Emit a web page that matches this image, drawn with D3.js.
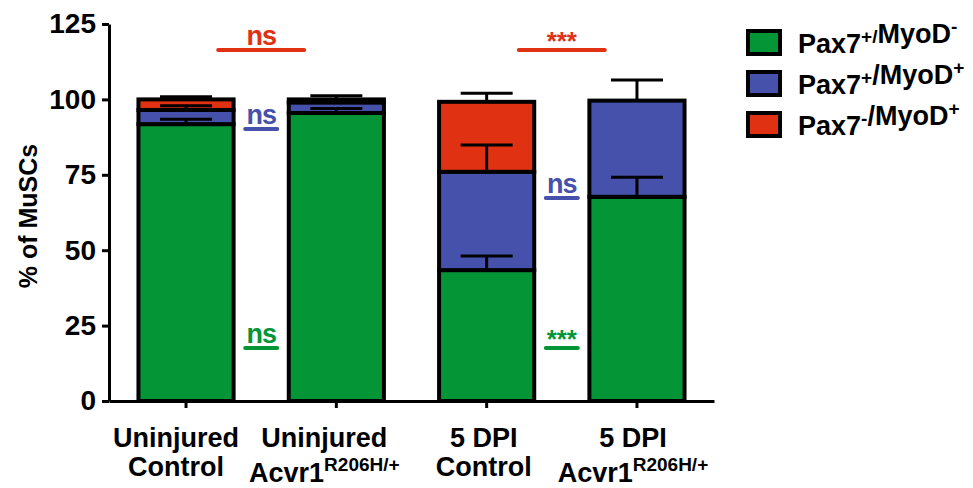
<!DOCTYPE html>
<html>
<head>
<meta charset="utf-8">
<script src="https://cdn.jsdelivr.net/npm/d3@7"></script>
<style>
    body { margin: 0; background: #fff; }
    text { font-family: "Liberation Sans", Arial, sans-serif; font-weight: bold; }
</style>
</head>
<body>
<div id="chart"></div>
<script>
// Groups and their two-line labels
const groups = ["Uninjured Control", "Uninjured Acvr1", "5 DPI Control", "5 DPI Acvr1"];
const labelTop = ["Uninjured", "Uninjured", "5 DPI", "5 DPI"];
const labelBottom = ["Control", "Acvr1", "Control", "Acvr1"];
const labelSup = ["", "R206H/+", "", "R206H/+"];

// Stacked series (% of MuSCs), bottom to top
const seriesKeys = ["pax7pMyoDn", "pax7pMyoDp", "pax7nMyoDp"];
const pax7pMyoDn = [91.8, 95.5, 43.4, 67.7];
const pax7pMyoDp = [4.7, 3.5, 32.6, 31.9];
const pax7nMyoDp = [3.5, 1.0, 23.2, 0];

// Error bars (SEM) for each segment
const errPax7pMyoDn = [1.6, 1.5, 4.7, 6.5];
const errPax7pMyoDp = [1.4, 0.8, 8.9, 6.8];
const errPax7nMyoDp = [0.9, 1.2, 2.8, 0];

const yTicks = [0, 25, 50, 75, 100, 125];

// Significance marks: left group index of the compared pair, line height (value)
const sigText = ["ns", "***", "ns", "ns", "ns", "***"];
const sigLeft = [0, 2, 0, 2, 0, 2];
const sigValue = [116.4, 116.4, 90.2, 67.3, 17.6, 17.6];
const sigSeries = ["pax7nMyoDp", "pax7nMyoDp", "pax7pMyoDp", "pax7pMyoDp", "pax7pMyoDn", "pax7pMyoDn"];

const width = 973, height = 488;

// small horizontal nudge of the category labels, as in the original figure
const labelNudge = [-10, -12, -3, -4];

const color = d3.scaleOrdinal()
    .domain(seriesKeys)
    .range(["#049537", "#4651ab", "#e03212"]);

const legendLabels = {
    pax7pMyoDn: [["Pax7", false], ["+/", true], ["MyoD", false], ["-", true]],
    pax7pMyoDp: [["Pax7", false], ["+", true], ["/MyoD", false], ["+", true]],
    pax7nMyoDp: [["Pax7", false], ["-", true], ["/MyoD", false], ["+", true]]
};

const svg = d3.select("#chart")
    .append("svg")
    .attr("width", width)
    .attr("height", height);

const x = d3.scaleBand()
    .domain(groups)
    .range([109, 714])
    .paddingInner(0.367)
    .paddingOuter(0.196);

const y = d3.scaleLinear()
    .domain([0, 125])
    .range([401, 24]);

// Stack data
const table = groups.map((g, i) => ({
    group: g,
    pax7pMyoDn: pax7pMyoDn[i],
    pax7pMyoDp: pax7pMyoDp[i],
    pax7nMyoDp: pax7nMyoDp[i]
}));
const errors = {
    pax7pMyoDn: errPax7pMyoDn,
    pax7pMyoDp: errPax7pMyoDp,
    pax7nMyoDp: errPax7nMyoDp
};
const stacked = d3.stack().keys(seriesKeys)(table);

// Bars
const layers = svg.selectAll(".layer")
    .data(stacked)
    .enter()
    .append("g")
    .attr("class", "layer")
    .attr("fill", d => color(d.key));

layers.selectAll("rect")
    .data(d => d.filter(v => v[1] - v[0] > 0))
    .enter()
    .append("rect")
    .attr("x", d => x(d.data.group))
    .attr("y", d => y(d[1]))
    .attr("width", x.bandwidth())
    .attr("height", d => y(d[0]) - y(d[1]))
    .attr("stroke", "#000")
    .attr("stroke-width", 4);

// Error bars
const capHalf = 26;
stacked.forEach(layer => {
    layer.forEach((d, i) => {
        const err = errors[layer.key][i];
        if (!(d[1] - d[0] > 0) || err <= 0) return;
        const cx = x(d.data.group) + x.bandwidth() / 2;
        const g = svg.append("g").attr("stroke", "#000").attr("stroke-width", 3);
        g.append("line")
            .attr("x1", cx).attr("x2", cx)
            .attr("y1", y(d[1])).attr("y2", y(d[1] + err));
        g.append("line")
            .attr("x1", cx - capHalf).attr("x2", cx + capHalf)
            .attr("y1", y(d[1] + err)).attr("y2", y(d[1] + err));
    });
});

// Axes
const yAxis = svg.append("g")
    .attr("transform", "translate(109,0)")
    .call(d3.axisLeft(y).tickValues(yTicks).tickSize(7).tickSizeOuter(0).tickPadding(6));
yAxis.select(".domain").attr("stroke-width", 3);
yAxis.selectAll(".tick line").attr("stroke-width", 3);
yAxis.selectAll(".tick text")
    .style("font-size", "28px")
    .attr("fill", "#000");

const xAxis = svg.append("g")
    .attr("transform", "translate(0,401)")
    .call(d3.axisBottom(x).tickSize(7).tickSizeOuter(0).tickFormat(""));
xAxis.select(".domain").attr("stroke-width", 3);
xAxis.selectAll(".tick line").attr("stroke-width", 3);

// X labels
groups.forEach((g, i) => {
    const cx = x(g) + x.bandwidth() / 2 + labelNudge[i];
    svg.append("text")
        .attr("x", cx).attr("y", 447)
        .attr("text-anchor", "middle")
        .style("font-size", "27px")
        .text(labelTop[i]);
    const t = svg.append("text")
        .attr("x", cx).attr("y", labelSup[i] ? 482 : 476)
        .attr("text-anchor", "middle")
        .style("font-size", "27px");
    t.append("tspan").text(labelBottom[i]);
    if (labelSup[i]) {
        t.append("tspan")
            .attr("dy", -11)
            .style("font-size", "19px")
            .text(labelSup[i]);
    }
});

// Y title
svg.append("text")
    .attr("transform", "translate(37,216) rotate(-90)")
    .attr("text-anchor", "middle")
    .style("font-size", "25px")
    .text("% of MuSCs");

// Significance marks
sigText.forEach((s, i) => {
    const left = groups[sigLeft[i]], right = groups[sigLeft[i] + 1];
    const cx = (x(left) + x.bandwidth() + x(right)) / 2;
    const wide = sigSeries[i] === "pax7nMyoDp";
    const half = wide ? 43 : 16;
    const ly = y(sigValue[i]);
    svg.append("line")
        .attr("x1", cx - half).attr("x2", cx + half)
        .attr("y1", ly).attr("y2", ly)
        .attr("stroke", color(sigSeries[i]))
        .attr("stroke-width", 4)
        .attr("stroke-linecap", "round");
    svg.append("text")
        .attr("x", cx)
        .attr("y", ly - (s === "ns" ? 5 : 0))
        .attr("text-anchor", "middle")
        .attr("fill", color(sigSeries[i]))
        .style("font-size", s === "ns" ? "27px" : "26px")
        .style("letter-spacing", s === "ns" ? "-1px" : null)
        .text(s);
});

// Legend
const legend = svg.selectAll(".legend")
    .data(seriesKeys)
    .enter()
    .append("g")
    .attr("class", "legend")
    .attr("transform", (d, i) => `translate(748,${31 + i * 41})`);

legend.append("rect")
    .attr("width", 32)
    .attr("height", 23)
    .attr("fill", d => color(d))
    .attr("stroke", "#000")
    .attr("stroke-width", 4);

legend.append("text")
    .attr("x", 50)
    .attr("y", 22)
    .style("font-size", "27px")
    .each(function (d) {
        const t = d3.select(this);
        legendLabels[d].forEach(([str, sup]) => {
            t.append("tspan")
                .attr("dy", sup ? -10 : null)
                .style("font-size", sup ? "19px" : null)
                .text(str);
            if (sup) t.append("tspan").attr("dy", 10).text("");
        });
    });
</script>
</body>
</html>
